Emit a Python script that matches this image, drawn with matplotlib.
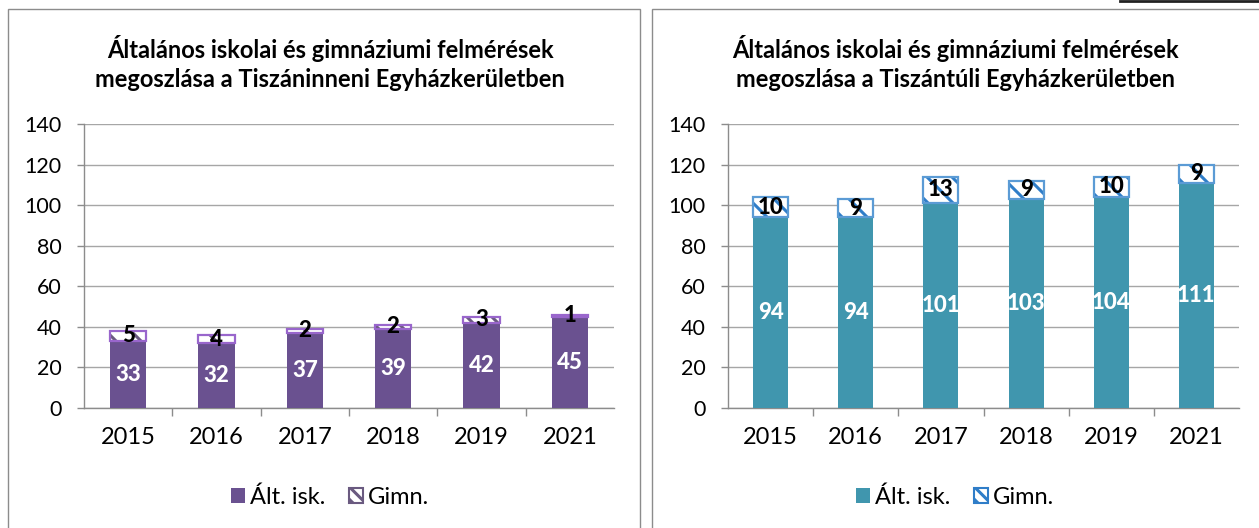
import matplotlib.pyplot as plt
import matplotlib.patches as mpatches
import numpy as np

# render at 75 dpi so the hatch unit (1 inch) gives ~12 px stripe spacing;
# sizes below are written for 100 dpi and scaled with k
DPI = 75
k = 100 / DPI

plt.rcParams['font.family'] = ['Lato', 'DejaVu Sans']
plt.rcParams['hatch.linewidth'] = 2.2 * k

years = ['2015', '2016', '2017', '2018', '2019', '2021']
alt_tiszaninneni = [33, 32, 37, 39, 42, 45]
gimn_tiszaninneni = [5, 4, 2, 2, 3, 1]
alt_tiszantuli = [94, 94, 101, 103, 104, 111]
gimn_tiszantuli = [10, 9, 13, 9, 10, 9]

titles = ['Általános iskolai és gimnáziumi felmérések\nmegoszlása a Tiszáninneni Egyházkerületben',
          'Általános iskolai és gimnáziumi felmérések\nmegoszlása a Tiszántúli Egyházkerületben']

W, H = 1259, 528
fig = plt.figure(figsize=(W / DPI, H / DPI), dpi=DPI)

# panel frames
for x0, x1 in [(8, 640), (652, 1262)]:
    fig.patches.append(mpatches.Rectangle((x0 / W, -0.01), (x1 - x0) / W, (H - 9) / H + 0.01,
                                          transform=fig.transFigure, fill=False,
                                          edgecolor='#8c8c8c', lw=1 * k))
fig.add_artist(plt.Line2D([1120 / W, 1], [1 - 1 / H, 1 - 1 / H], transform=fig.transFigure,
                          color='#222222', lw=2 * k))

# left px, right px, title centre px, bar colour, hatch colour, edge colour
panels = [
    (84, 614, 330, alt_tiszaninneni, gimn_tiszaninneni, '#6a5190', '#6a5a80', '#9966cc'),
    (728, 1239, 955, alt_tiszantuli, gimn_tiszantuli, '#4096ae', '#2f7dc8', '#5b9bd5'),
]

x = np.arange(len(years))
for i, (l, r, tc, alt, gimn, c1, ch, ce) in enumerate(panels):
    ax = fig.add_axes([l / W, 1 - 408 / H, (r - l) / W, (408 - 124) / H])
    ax.bar(x, alt, width=0.41, color=c1, zorder=3)
    ax.bar(x, gimn, bottom=alt, width=0.41, facecolor='white', edgecolor=ch,
           hatch='\\', lw=0, zorder=3)
    ax.bar(x, gimn, bottom=alt, width=0.41, fill=False, edgecolor=ce, lw=1.6 * k, zorder=3)
    for xi, a, g in zip(x, alt, gimn):
        ax.text(xi, a / 2, str(a), ha='center', va='center', color='white',
                fontsize=16 * k, fontweight='black', zorder=4)
        ax.text(xi, a + g / 2, str(g), ha='center', va='center', color='black',
                fontsize=16 * k, fontweight='black', zorder=4)
    ax.set_xlim(-0.5, len(years) - 0.5)
    ax.set_ylim(0, 140)
    ax.set_yticks(range(0, 141, 20))
    ax.set_xticks(x)
    ax.set_xticklabels(years)
    ax.set_xticks(np.arange(0.5, len(years) - 0.5, 1), minor=True)
    ax.tick_params(axis='x', which='major', length=0, labelsize=17 * k, pad=14 * k)
    ax.tick_params(axis='x', which='minor', length=6 * k, width=k, color='#8c8c8c')
    ax.tick_params(axis='y', length=5 * k, width=k, color='#8c8c8c', labelsize=15.5 * k,
                   pad=11 * k)
    ax.grid(axis='y', color='#a6a6a6', lw=1 * k, zorder=0)
    for s in ['top', 'right']:
        ax.spines[s].set_visible(False)
    for s in ['left', 'bottom']:
        ax.spines[s].set_color('#8c8c8c')
        ax.spines[s].set_linewidth(k)

    fig.text(tc / W, 1 - 63 / H, titles[i], ha='center', va='center', fontsize=17 * k,
             fontweight='bold', linespacing=1.35)

    handles = [mpatches.Patch(facecolor=c1, label='Ált. isk.'),
               mpatches.Patch(facecolor='white', edgecolor=ch, hatch='\\\\', lw=1.5 * k,
                              label='Gimn.')]
    fig.legend(handles=handles, loc='center', bbox_to_anchor=(tc / W, 1 - 497 / H),
               ncol=2, frameon=False, fontsize=17 * k, handlelength=0.6, handleheight=0.6,
               handletextpad=0.2, columnspacing=1.0)

fig.savefig('out.png', dpi=DPI)
